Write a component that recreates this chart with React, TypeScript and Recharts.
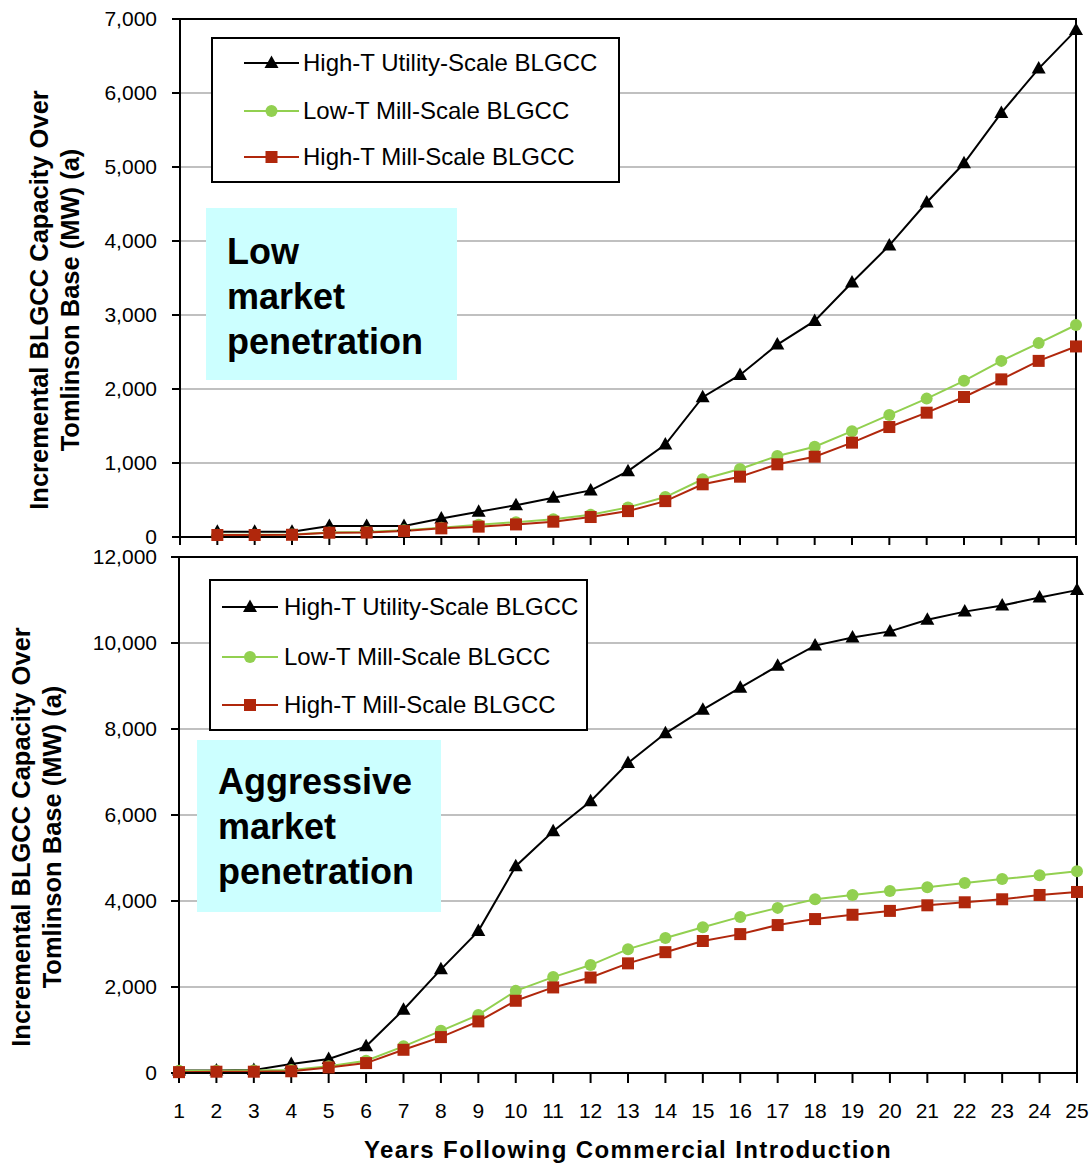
import React from 'react';
import { LineChart, Line, XAxis, YAxis, CartesianGrid, Legend, ReferenceArea } from 'recharts';

// x categories (years after introduction)
const years = [1, 2, 3, 4, 5, 6, 7, 8, 9, 10, 11, 12, 13, 14, 15, 16, 17, 18, 19, 20, 21, 22, 23, 24, 25];

// Low market penetration (no point at year 1)
const lowUtility = [null, 70, 70, 70, 150, 150, 150, 250, 340, 430, 530, 630, 890, 1250, 1890, 2190, 2600, 2920, 3440, 3940, 4520, 5050, 5730, 6330, 6850];
const lowMillLowT = [null, 30, 30, 35, 62, 68, 90, 125, 165, 200, 240, 300, 400, 540, 780, 920, 1095, 1220, 1430, 1650, 1870, 2110, 2380, 2620, 2865];
const lowMillHighT = [null, 27, 27, 30, 58, 60, 80, 117, 140, 170, 207, 270, 350, 485, 712, 815, 982, 1085, 1275, 1486, 1680, 1892, 2130, 2380, 2575];

// Aggressive market penetration
const aggUtility = [60, 60, 70, 210, 325, 620, 1470, 2410, 3300, 4810, 5620, 6320, 7210, 7900, 8450, 8960, 9470, 9940, 10130, 10270, 10540, 10730, 10870, 11060, 11230];
const aggMillLowT = [50, 50, 60, 70, 155, 285, 620, 980, 1350, 1910, 2230, 2510, 2880, 3140, 3390, 3630, 3840, 4040, 4140, 4230, 4320, 4420, 4510, 4600, 4690];
const aggMillHighT = [20, 30, 30, 40, 130, 230, 540, 835, 1200, 1680, 1990, 2220, 2550, 2810, 3070, 3230, 3440, 3580, 3680, 3770, 3900, 3970, 4040, 4140, 4210];

const lowTicks = [0, 1000, 2000, 3000, 4000, 5000, 6000, 7000];
const aggTicks = [0, 2000, 4000, 6000, 8000, 10000, 12000];

const FONT = '"Liberation Sans", Arial, sans-serif';
const BLACK = '#000000';
const GREEN = '#92D050';
const RED = '#B0270C';

const SERIES = [
  { key: 'utility', name: 'High-T Utility-Scale BLGCC', color: BLACK, shape: 'triangle' },
  { key: 'lowT', name: 'Low-T Mill-Scale BLGCC', color: GREEN, shape: 'circle' },
  { key: 'highT', name: 'High-T Mill-Scale BLGCC', color: RED, shape: 'square' },
];

const lowData = years.map((year, i) => ({ year, utility: lowUtility[i], lowT: lowMillLowT[i], highT: lowMillHighT[i] }));
const aggData = years.map((year, i) => ({ year, utility: aggUtility[i], lowT: aggMillLowT[i], highT: aggMillHighT[i] }));

const fmt = (v: number) => v.toLocaleString('en-US');

const Marker = ({ shape, cx, cy, color }: any) => {
  if (cx == null || cy == null || isNaN(cy)) return null;
  if (shape === 'triangle') {
    return <path d={`M${cx},${cy - 7.5} L${cx + 7},${cy + 5} L${cx - 7},${cy + 5} Z`} fill={color} />;
  }
  if (shape === 'circle') return <circle cx={cx} cy={cy} r={6} fill={color} />;
  return <rect x={cx - 6} y={cy - 6} width={12} height={12} fill={color} />;
};

const makeDot = (shape: string, color: string) => (props: any) => {
  const { cx, cy, index, value } = props;
  if (value == null) return <g key={`n${index}`} />;
  return <Marker key={`m${index}`} shape={shape} cx={cx} cy={cy} color={color} />;
};

const YTitle = ({ bx, cy }: { bx: number; cy: number }) => (
  <text transform={`translate(${bx},${cy}) rotate(-90)`} textAnchor="middle" fontFamily={FONT} fontWeight="bold" fontSize={25.5} fill="#000">
    <tspan x={0} y={0}>Incremental BLGCC Capacity Over</tspan>
    <tspan x={0} y={31}>Tomlinson Base (MW) (a)</tspan>
  </text>
);

const LegendBox = ({ rows, sampleLeft, sampleWidth, textLeft, fontSize }: any) => (
  <div style={{ position: 'relative', width: '100%', height: '100%', border: '2px solid #000', boxSizing: 'border-box', background: '#fff', fontFamily: FONT }}>
    {SERIES.map((s, i) => (
      <div key={s.key} style={{ position: 'absolute', left: 0, top: rows[i] - 20, height: 40, width: '100%' }}>
        <svg width={sampleLeft + sampleWidth + 4} height={40} style={{ position: 'absolute', left: 0, top: 0 }}>
          <line x1={sampleLeft} x2={sampleLeft + sampleWidth} y1={20} y2={20} stroke={s.color} strokeWidth={2} />
          <Marker shape={s.shape} cx={sampleLeft + sampleWidth / 2} cy={20} color={s.color} />
        </svg>
        <div style={{ position: 'absolute', left: textLeft, top: 0, lineHeight: '40px', fontSize, color: '#000', whiteSpace: 'nowrap' }}>{s.name}</div>
      </div>
    ))}
  </div>
);

const noteStyle: React.CSSProperties = {
  position: 'absolute',
  background: '#CCFFFF',
  fontFamily: FONT,
  fontWeight: 'bold',
  fontSize: 36,
  lineHeight: '45px',
  color: '#000',
  boxSizing: 'border-box',
};

const yTickStyle = { fontSize: 21, fontFamily: FONT, fill: '#000' };
const xTickStyle = { fontSize: 21, fontFamily: FONT, fill: '#000' };

export default function App() {
  return (
    <div style={{ position: 'absolute', left: 0, top: 0, width: 1091, height: 1165, background: '#fff', overflow: 'hidden' }}>
      <div style={{ position: 'absolute', left: 0, top: 0 }}>
        <LineChart width={1091} height={556} data={lowData} margin={{ top: 19, right: 15, left: 0, bottom: 8 }}>
          <CartesianGrid vertical={false} stroke="#C0C0C0" strokeWidth={2} />
          <XAxis
            dataKey="year"
            type="number"
            domain={[1, 25]}
            ticks={years}
            interval={0}
            height={11}
            tickFormatter={() => ''}
            tickSize={8}
            axisLine={{ stroke: '#000', strokeWidth: 2 }}
            tickLine={{ stroke: '#000', strokeWidth: 2 }}
          />
          <YAxis
            type="number"
            domain={[0, 7000]}
            ticks={lowTicks}
            interval={0}
            width={180}
            tickFormatter={fmt}
            tick={yTickStyle}
            tickSize={8}
            tickMargin={15}
            axisLine={{ stroke: '#000', strokeWidth: 2 }}
            tickLine={{ stroke: '#000', strokeWidth: 2 }}
            label={() => <YTitle bx={48} cy={300} />}
          />
          <ReferenceArea x1={1} x2={25} y1={0} y2={7000} fill="none" stroke="#000" strokeWidth={2} />
          <Legend
            layout="vertical"
            align="center"
            verticalAlign="middle"
            wrapperStyle={{ left: 211, top: 37, width: 409, height: 146 }}
            content={() => <LegendBox rows={[24, 72, 118]} sampleLeft={31} sampleWidth={55} textLeft={90} fontSize={24} />}
          />
          {SERIES.map((s) => (
            <Line
              key={s.key}
              dataKey={s.key}
              name={s.name}
              stroke={s.color}
              strokeWidth={2}
              dot={makeDot(s.shape, s.color)}
              activeDot={false}
              isAnimationActive={false}
            />
          ))}
        </LineChart>
      </div>

      <div style={{ position: 'absolute', left: 0, top: 530 }}>
        <LineChart width={1091} height={634} data={aggData} margin={{ top: 27, right: 14, left: 0, bottom: 0 }}>
          <CartesianGrid vertical={false} stroke="#C0C0C0" strokeWidth={2} />
          <XAxis
            dataKey="year"
            type="number"
            domain={[1, 25]}
            ticks={years}
            interval={0}
            height={91}
            tick={xTickStyle}
            tickSize={10}
            tickMargin={20}
            axisLine={{ stroke: '#000', strokeWidth: 2 }}
            tickLine={{ stroke: '#000', strokeWidth: 2 }}
            label={(p: any) => {
              const vb = p.viewBox || { x: 179, y: 543, width: 898 };
              return (
                <text x={vb.x + vb.width / 2} y={vb.y + 85} textAnchor="middle" fontFamily={FONT} fontWeight="bold" fontSize={24} letterSpacing={1.4} fill="#000">
                  Years Following Commercial Introduction
                </text>
              );
            }}
          />
          <YAxis
            type="number"
            domain={[0, 12000]}
            ticks={aggTicks}
            interval={0}
            width={179}
            tickFormatter={fmt}
            tick={yTickStyle}
            tickSize={8}
            tickMargin={14}
            axisLine={{ stroke: '#000', strokeWidth: 2 }}
            tickLine={{ stroke: '#000', strokeWidth: 2 }}
            label={() => <YTitle bx={30} cy={307} />}
          />
          <ReferenceArea x1={1} x2={25} y1={0} y2={12000} fill="none" stroke="#000" strokeWidth={2} />
          <Legend
            layout="vertical"
            align="center"
            verticalAlign="middle"
            wrapperStyle={{ left: 209, top: 49, width: 379, height: 152 }}
            content={() => <LegendBox rows={[26, 76, 124]} sampleLeft={11} sampleWidth={56} textLeft={73} fontSize={24} />}
          />
          {SERIES.map((s) => (
            <Line
              key={s.key}
              dataKey={s.key}
              name={s.name}
              stroke={s.color}
              strokeWidth={2}
              dot={makeDot(s.shape, s.color)}
              activeDot={false}
              isAnimationActive={false}
            />
          ))}
        </LineChart>
      </div>

      <div style={{ ...noteStyle, left: 206, top: 208, width: 251, height: 172, padding: '21px 0 0 21px' }}>
        Low<br />market<br />penetration
      </div>
      <div style={{ ...noteStyle, left: 197, top: 740, width: 244, height: 172, padding: '19px 0 0 21px' }}>
        Aggressive<br />market<br />penetration
      </div>
    </div>
  );
}
